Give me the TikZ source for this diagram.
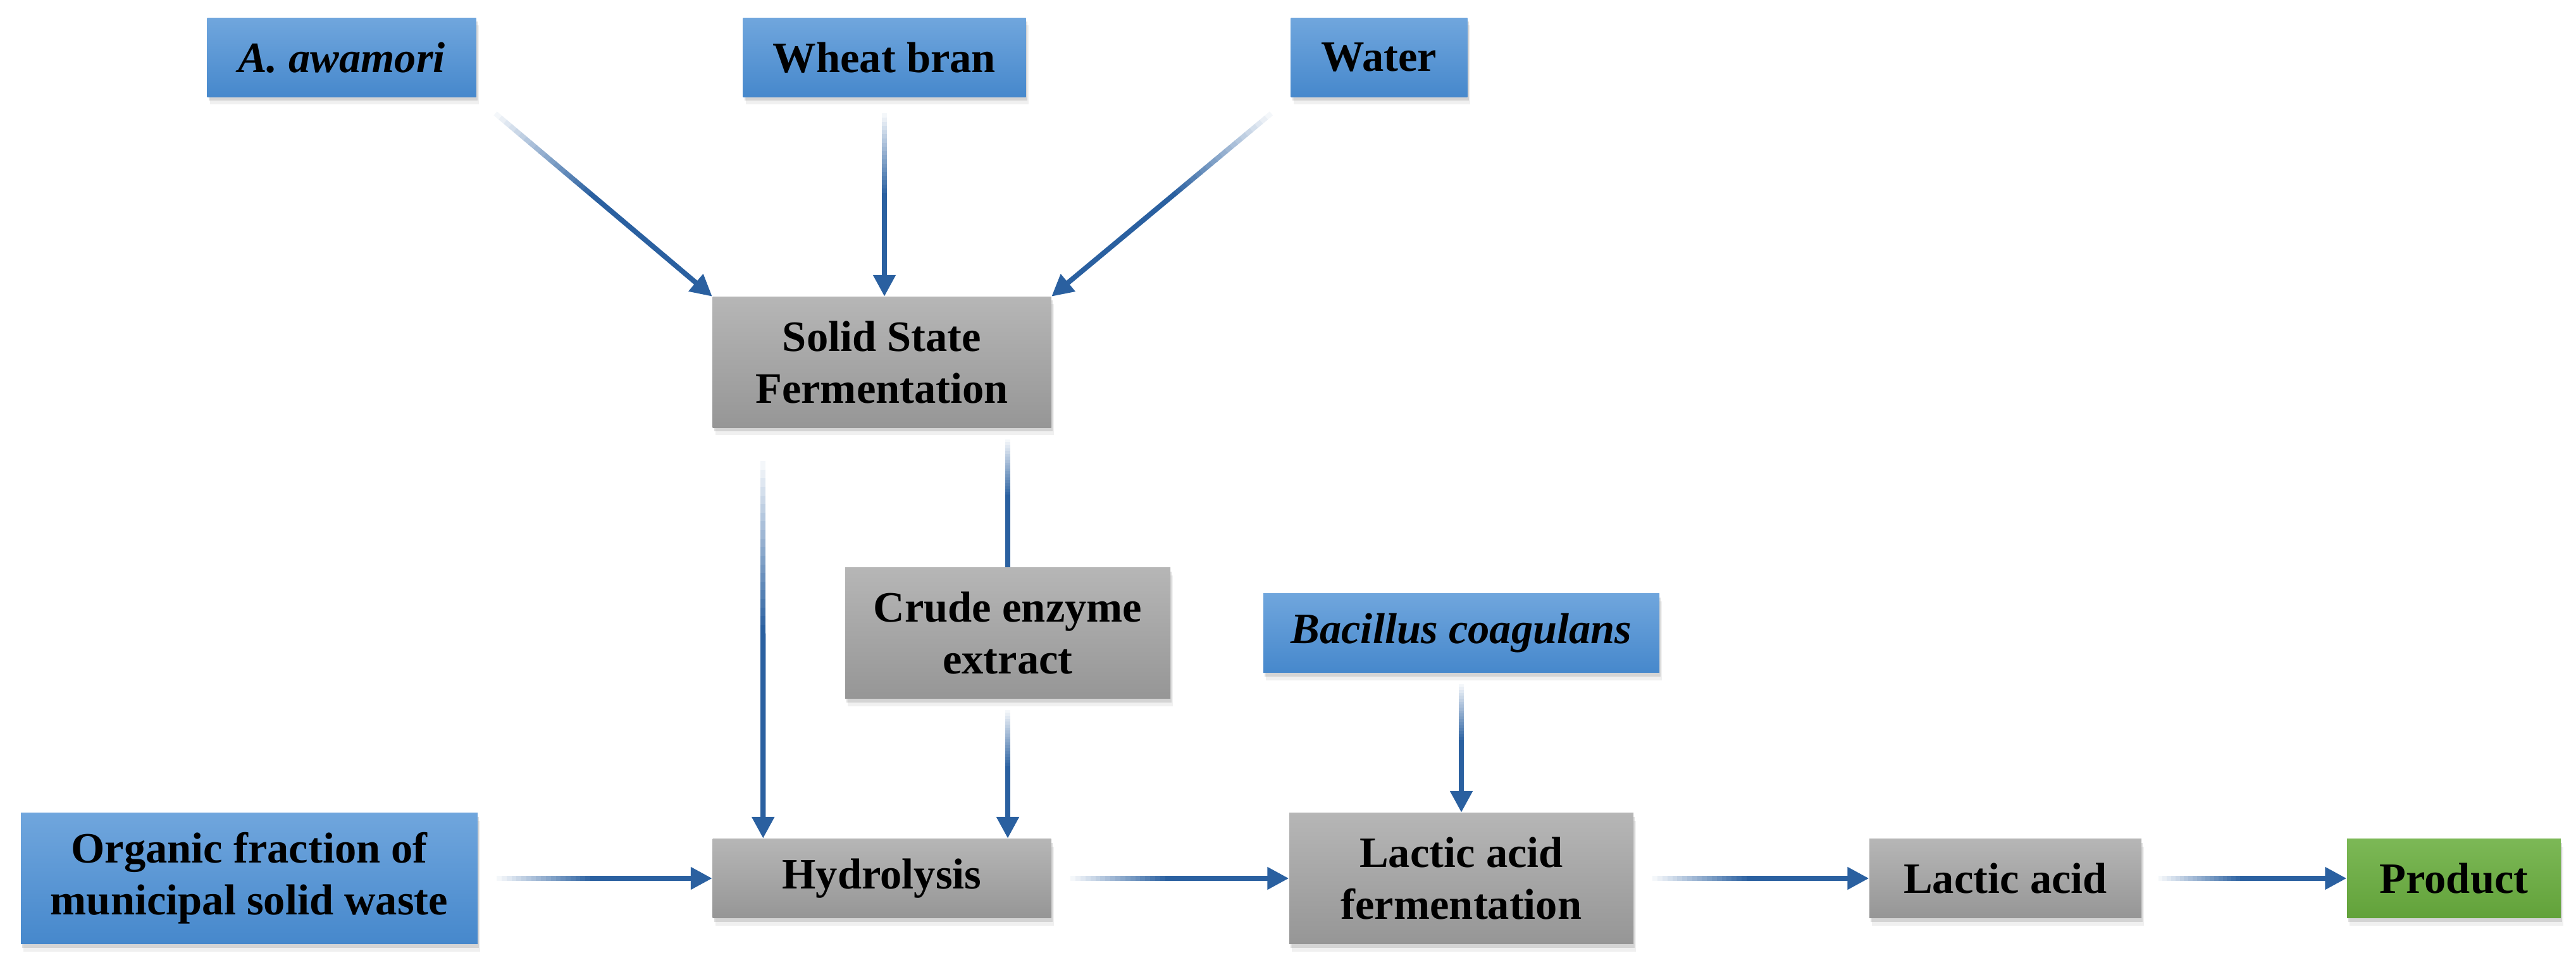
\documentclass[tikz,border=0pt]{standalone}
\usepackage{fontspec}
\setmainfont{Liberation Serif}
\usepackage{tikz}
\usetikzlibrary{calc,positioning,arrows.meta,shadows}
\definecolor{boxblueT}{RGB}{112,166,221}
\definecolor{boxblueB}{RGB}{70,136,204}
\definecolor{boxgrayT}{RGB}{182,182,182}
\definecolor{boxgrayB}{RGB}{150,150,150}
\definecolor{boxgreenT}{RGB}{124,184,86}
\definecolor{boxgreenB}{RGB}{98,162,58}
\definecolor{flowblue}{RGB}{42,96,160}

% connector whose start fades out into white
\newcommand{\fadeconn}[3]{%
  \foreach \k in {0,...,19}{%
    \pgfmathsetmacro{\fcA}{0.08+\k*0.021}%
    \pgfmathsetmacro{\fcB}{0.08+\k*0.021+0.023}%
    \pgfmathtruncatemacro{\fcT}{5+\k*5}%
    \draw[flow,draw=flowblue!\fcT] ($(#2)!\fcA!(#3)$) -- ($(#2)!\fcB!(#3)$);
  }%
  \draw[flow,#1] ($(#2)!0.5!(#3)$) -- (#3);
}

\begin{document}
\begin{tikzpicture}[
  flow/.style={line width=2.3pt,draw=flowblue,>={Triangle[length=0.34cm,width=0.34cm]}},
  box/.style={minimum height=1.25cm,inner sep=0pt,align=center,
    font=\bfseries\fontsize{19.5}{23.3}\selectfont,
    drop shadow={shadow xshift=0.02cm,shadow yshift=-0.06cm,opacity=0.25},
    drop shadow={shadow xshift=0.04cm,shadow yshift=-0.12cm,opacity=0.12}},
  srcbox/.style={box,top color=boxblueT,bottom color=boxblueB},
  procbox/.style={box,top color=boxgrayT,bottom color=boxgrayB},
  prodbox/.style={box,top color=boxgreenT,bottom color=boxgreenB},
  tall/.style={minimum height=2.07cm}]
\useasboundingbox (0,0) rectangle (40.72,-15.45);

% inputs of the solid state fermentation
\node[srcbox,minimum width=4.25cm] (awa) at (5.40,-0.91) {\textit{A. awamori}};
\node[srcbox,minimum width=4.47cm] (wheat) at (13.98,-0.91) {Wheat bran};
\node[srcbox,minimum width=2.79cm] (water) at (21.80,-0.91) {Water};
\node[procbox,tall,minimum width=5.35cm] (ssf) at (13.94,-5.73) {Solid State\\Fermentation};
\node[procbox,tall,minimum width=5.14cm] (crude) at (15.93,-10.01) {Crude enzyme\\extract};
\node[srcbox,minimum width=6.26cm] (bac) at (23.10,-10.01) {\textit{Bacillus coagulans}};

% main line
\node[srcbox,tall,minimum width=7.22cm] (ofmsw) at (3.94,-13.89) {Organic fraction of\\municipal solid waste};
\node[procbox,minimum width=5.35cm] (hyd) at (13.94,-13.89) {Hydrolysis};
\node[procbox,tall,minimum width=5.44cm] (laf) at (23.10,-13.89) {Lactic acid\\fermentation};
\node[procbox,minimum width=4.30cm] (lacid) at (31.70,-13.89) {Lactic acid};
\node[prodbox,minimum width=3.38cm] (prod) at (38.79,-13.89) {Product};

\coordinate (ssfin) at (wheat.south |- ssf.north);
\coordinate (ssfout) at ($(ssf.south west)!0.15!(ssf.south east)$);
\coordinate (hydin) at (ssfout |- hyd.north);
\coordinate (crudetop) at (crude.north |- ssf.south);
\coordinate (hydin2) at (crude.south |- hyd.north);

\fadeconn{->}{awa.south east}{ssf.north west}
\fadeconn{->}{wheat.south}{ssfin}
\fadeconn{->}{water.south west}{ssf.north east}
\fadeconn{->}{ssfout}{hydin}
\fadeconn{-}{crudetop}{crude.north}
\fadeconn{->}{crude.south}{hydin2}
\fadeconn{->}{bac.south}{laf.north}
\fadeconn{->}{ofmsw.east}{hyd.west}
\fadeconn{->}{hyd.east}{laf.west}
\fadeconn{->}{laf.east}{lacid.west}
\fadeconn{->}{lacid.east}{prod.west}
\end{tikzpicture}
\end{document}
